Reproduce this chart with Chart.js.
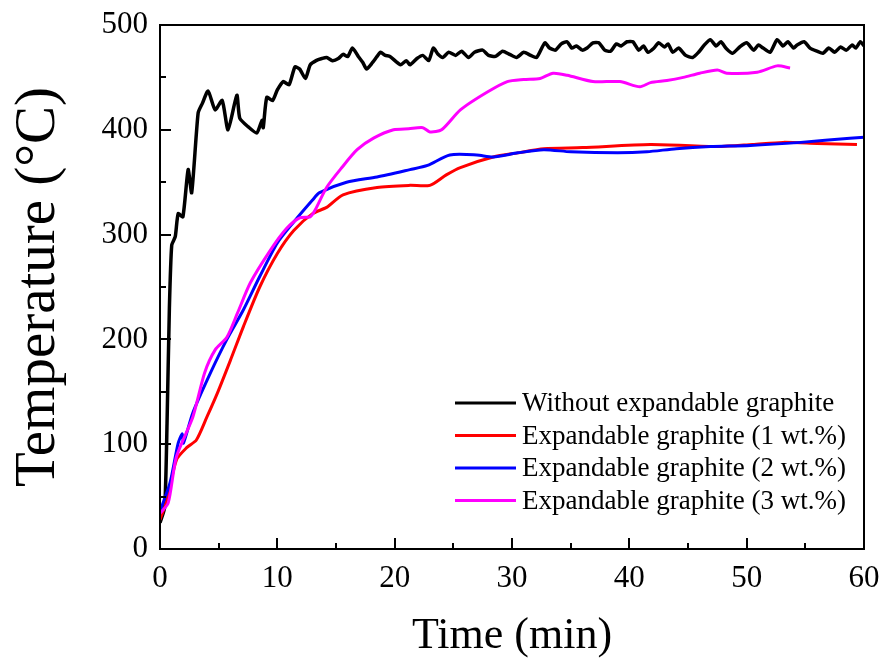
<!DOCTYPE html>
<html>
<head>
<meta charset="utf-8">
<script src="https://cdn.jsdelivr.net/npm/chart.js@4.4.1/dist/chart.umd.min.js"></script>
<style>
  html, body { margin: 0; padding: 0; background: #fff; }
  #wrap { width: 886px; height: 662px; }
</style>
</head>
<body>
<div id="wrap"><canvas id="c" width="886" height="662"></canvas></div>
<script>
const serif = "'Liberation Serif', 'Times New Roman', serif";

// Without expandable graphite
const blackTime = [0,0.4,0.6,0.8,1.0,1.3,1.55,1.95,2.4,2.7,3.25,3.6,4.1,4.7,5.3,5.8,6.55,6.8,7.5,8.25,8.7,8.8,9.1,9.6,10,10.5,11.0,11.5,11.9,12.4,12.8,13.3,13.8,14.2,14.7,15.2,15.6,16.0,16.4,16.9,17.3,17.6,18.1,18.5,18.8,19.2,19.6,20.5,21.0,21.3,21.9,22.4,22.9,23.3,23.7,24.1,24.6,25.2,25.7,26.3,26.8,27.5,28.0,28.6,29.2,29.8,30.4,31.0,31.6,32.1,32.8,33.2,33.7,34.2,34.7,35.1,35.5,36.0,36.4,36.9,37.4,37.9,38.4,38.9,39.3,39.8,40.3,40.8,41.2,41.6,42.1,42.5,43.0,43.3,43.7,44.2,44.8,45.4,45.9,46.4,46.9,47.4,47.8,48.3,48.8,49.4,50.0,50.6,51.0,51.4,52.0,52.6,53.1,53.5,54.0,54.3,54.9,55.4,56.0,56.5,57.0,57.5,58.0,58.5,59.0,59.3,59.7,60];
const blackTemp = [25,40,120,230,290,298,320,317,362,340,416,425,437,419,428,400,433,411,403,397,409,402,431,428,438,446,443,460,458,449,462,466,468,469,466,468,472,470,478,470,464,458,464,470,474,471,470,462,466,462,468,471,466,478,472,469,474,471,475,469,474,476,471,470,475,472,469,474,471,469,483,478,476,482,484,478,480,476,478,483,483,476,475,482,480,484,484,476,480,474,478,483,479,482,474,478,471,469,474,481,486,480,484,477,473,479,483,476,481,478,474,486,480,484,478,481,484,478,475,473,478,474,479,476,481,478,484,480];

// 1 wt.%
const redTime = [0,0.6,1.4,2.3,3.1,4,4.9,6,7.1,8.5,10,11.4,13,14.2,15.6,18.5,21.3,23,24.4,25.6,28.4,30.5,32.7,36,41.8,47.5,50.5,53.1,56,59.4];
const redTemp = [28,47,85,97,104,126,149,180,212,250,282,304,320,326,338,345,347,347,357,364,374,378,382,383,386,384,386,388,387,386];

// 2 wt.%
const blueTime = [0,0.85,1.55,1.9,2,2.8,4.3,5.7,7.1,8.5,10,11.4,13,13.6,15.9,18.5,21.3,22.8,24.7,27,28.4,30.5,32.7,35,39,41.5,44,46.9,50.3,54.6,58.8,60];
const blueTemp = [36,63,101,110,101,130,168,200,228,260,292,312,333,340,350,355,362,366,376,376,374,378,381,379,378,379,382,384,385,388,392,393];

// 3 wt.%
const magTime = [0,0.7,1.4,2.8,3.8,4.7,5.7,6.6,7.7,9.4,10.8,11.9,12.8,13.2,14.2,15.5,16.8,18.2,19.9,21.2,22.4,23,24,25.6,27.9,29.6,31,32.4,33.5,34.7,36.9,39.2,40.9,41.8,43.2,44.6,46,47.5,48.3,50.9,52.6,53.7];
const magTemp = [34,44,88,126,168,190,202,225,254,285,306,316,317,323,345,364,381,392,400,401,402,398,400,419,436,446,448,449,454,452,446,446,441,445,447,450,454,457,454,455,461,459];

const seriesLabels = ['Without expandable graphite','Expandable graphite (1 wt.%)','Expandable graphite (2 wt.%)','Expandable graphite (3 wt.%)'];
const seriesColours = ['#000000','#ff0000','#0000ff','#ff00ff'];

const xTicks = [0,10,20,30,40,50,60];
const yTicks = [0,100,200,300,400,500];

function pts(t, v){ return t.map(function(x,i){ return {x:x, y:v[i]}; }); }

const series = [pts(blackTime,blackTemp), pts(redTime,redTemp), pts(blueTime,blueTemp), pts(magTime,magTemp)];

// frame, inward ticks and the legend box
const decor = {
	id: 'decor',
	afterDatasetsDraw: function(chart){
		var ctx = chart.ctx, a = chart.chartArea, xs = chart.scales.x, ys = chart.scales.y, v, p;
		ctx.save();
		ctx.strokeStyle = '#000';
		ctx.lineWidth = 2;
		ctx.strokeRect(a.left, a.top, a.right - a.left, a.bottom - a.top);
		ctx.beginPath();
		for(v = 5; v < 60; v += 5){
			p = Math.round(xs.getPixelForValue(v));
			ctx.moveTo(p, a.bottom);
			ctx.lineTo(p, a.bottom - (v % 10 == 0 ? 11 : 6));
		}
		for(v = 50; v < 500; v += 50){
			p = Math.round(ys.getPixelForValue(v));
			ctx.moveTo(a.left, p);
			ctx.lineTo(a.left + (v % 100 == 0 ? 11 : 6), p);
		}
		ctx.stroke();

		// legend
		ctx.font = '27px ' + serif;
		ctx.textBaseline = 'middle';
		ctx.textAlign = 'left';
		ctx.lineWidth = 3;
		chart.data.datasets.forEach(function(ds,i){
			var y = 403 + i*32.5;
			ctx.strokeStyle = ds.borderColor;
			ctx.beginPath();
			ctx.moveTo(455, y);
			ctx.lineTo(516, y);
			ctx.stroke();
			ctx.fillStyle = '#000';
			ctx.fillText(ds.label, 522, y + 1);
		});
		ctx.restore();
	}
};

new Chart(document.getElementById('c'), {
	type: 'line',
	data: {
		datasets: series.map(function(d,i){
			return {
				label: seriesLabels[i],
				data: d,
				borderColor: seriesColours[i],
				backgroundColor: seriesColours[i],
				borderWidth: i == 0 ? 3.5 : 3,
				pointRadius: 0,
				tension: i == 0 ? 0.2 : 0.25,
				order: i == 0 ? 4 : 4 - i
			};
		})
	},
	options: {
		responsive: false,
		animation: false,
		devicePixelRatio: 1,
		layout: { padding: { left: 0, top: 25, right: 22, bottom: 0 } },
		plugins: { legend: { display: false }, tooltip: { enabled: false } },
		scales: {
			x: {
				type: 'linear', min: 0, max: 60,
				afterBuildTicks: function(s){ s.ticks = xTicks.map(function(v){ return {value:v}; }); },
				afterFit: function(s){ s.height = 113; s.paddingLeft = 0; s.paddingRight = 0; },
				grid: { display: false, drawTicks: false },
				border: { display: false },
				ticks: { color: '#000', padding: 11, maxRotation: 0, font: { family: serif, size: 31 } },
				title: { display: true, text: 'Time (min)', color: '#000', padding: { top: 0, bottom: 4 }, font: { family: serif, size: 44, lineHeight: 1 } }
			},
			y: {
				type: 'linear', min: 0, max: 500,
				afterBuildTicks: function(s){ s.ticks = yTicks.map(function(v){ return {value:v}; }); },
				afterFit: function(s){ s.width = 160; s.paddingTop = 0; s.paddingBottom = 0; },
				grid: { display: false, drawTicks: false },
				border: { display: false },
				ticks: { color: '#000', padding: 12, font: { family: serif, size: 31 } },
				title: { display: true, text: 'Temperature (\u00b0C)', color: '#000', padding: { top: 11, bottom: 0 }, font: { family: serif, size: 57, lineHeight: 1 } }
			}
		}
	},
	plugins: [decor]
});
</script>
</body>
</html>
